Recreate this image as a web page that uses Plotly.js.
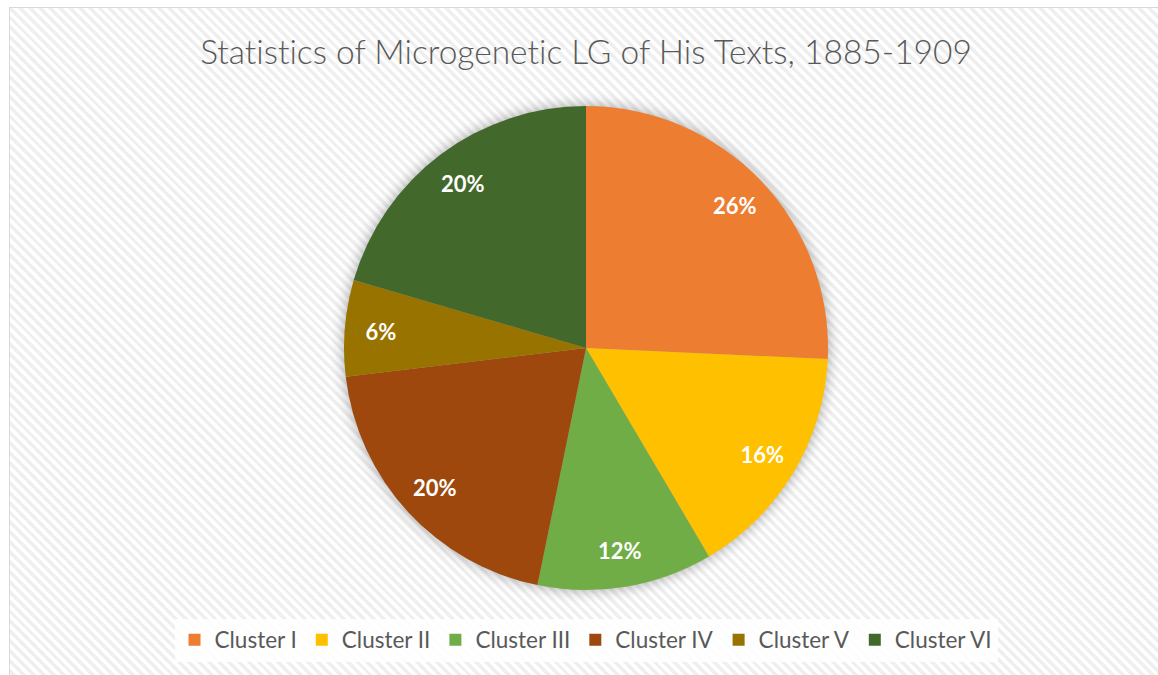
<!DOCTYPE html>
<html>
<head>
<meta charset="utf-8">
<script src="https://cdn.plot.ly/plotly-3.0.1.min.js"></script>
<style>
  html, body { margin: 0; padding: 0; background: #ffffff; width: 1158px; height: 675px; overflow: hidden; }
  #bg {
    position: absolute; left: 9px; top: 7px; width: 1200px; height: 700px;
    border: 1px solid #d9d9d9;
    background: repeating-linear-gradient(45deg, #ffffff 0px, #ffffff 3.5px, #efefef 3.5px, #efefef 7px);
  }
  #chart { position: absolute; left: 0; top: 0; width: 1158px; height: 675px; }
  #chart text { font-variant-ligatures: none; font-feature-settings: "liga" 0; }
  .pielayer .trace:first-child { filter: drop-shadow(0px 0px 7px rgba(0,0,0,0.35)); }
</style>
</head>
<body>
<div id="bg"></div>
<div id="chart"></div>
<script>
const categories = ["Cluster I", "Cluster II", "Cluster III", "Cluster IV", "Cluster V", "Cluster VI"];
const counts = [44, 27, 20, 34, 11, 35];
const sliceColors = ["#ED7D31", "#FFC000", "#70AD47", "#9E480E", "#997300", "#43682B"];
const chartTitle = "Statistics of Microgenetic LG of His Texts, 1885-1909";

const W = 1158, H = 675;
const cx = 586, cy = 348, r = 242;
const pieDomain = { x: [(cx - r) / W, (cx + r) / W], y: [1 - (cy + r) / H, 1 - (cy - r) / H] };

const slices = {
  type: "pie",
  labels: categories,
  values: counts,
  sort: false,
  direction: "clockwise",
  rotation: 0,
  marker: { colors: sliceColors, line: { width: 0 } },
  textinfo: "none",
  hoverinfo: "label+percent",
  domain: pieDomain
};

// transparent ring on top so the library places the percent labels near the rim
const labelRing = {
  type: "pie",
  labels: categories,
  values: counts,
  sort: false,
  direction: "clockwise",
  rotation: 0,
  hole: 0.7,
  showlegend: false,
  marker: { colors: categories.map(() => "rgba(0,0,0,0)"), line: { width: 0 } },
  texttemplate: "%{percent:.0%}",
  textposition: "inside",
  insidetextorientation: "horizontal",
  textfont: { family: "Lato, 'Open Sans', sans-serif", size: 22, color: "#ffffff", weight: 700 },
  hoverinfo: "skip",
  domain: pieDomain
};

const layout = {
  width: W, height: H,
  margin: { l: 0, r: 0, t: 0, b: 0 },
  paper_bgcolor: "rgba(0,0,0,0)",
  plot_bgcolor: "rgba(0,0,0,0)",
  title: {
    text: chartTitle,
    font: { family: "Lato, 'Open Sans', sans-serif", size: 33.5, color: "#595959", weight: 300 },
    x: 586 / W, xanchor: "center",
    y: 1 - 52 / H, yanchor: "middle"
  },
  showlegend: true,
  legend: {
    orientation: "h",
    x: 586 / W, xanchor: "center",
    y: 1 - 640 / H, yanchor: "middle",
    bgcolor: "rgba(255,255,255,0.85)",
    font: { family: "Lato, 'Open Sans', sans-serif", size: 22.5, color: "#595959" },
    traceorder: "normal"
  }
};

Plotly.newPlot("chart", [slices, labelRing], layout, { displayModeBar: false, staticPlot: true });
</script>
</body>
</html>
